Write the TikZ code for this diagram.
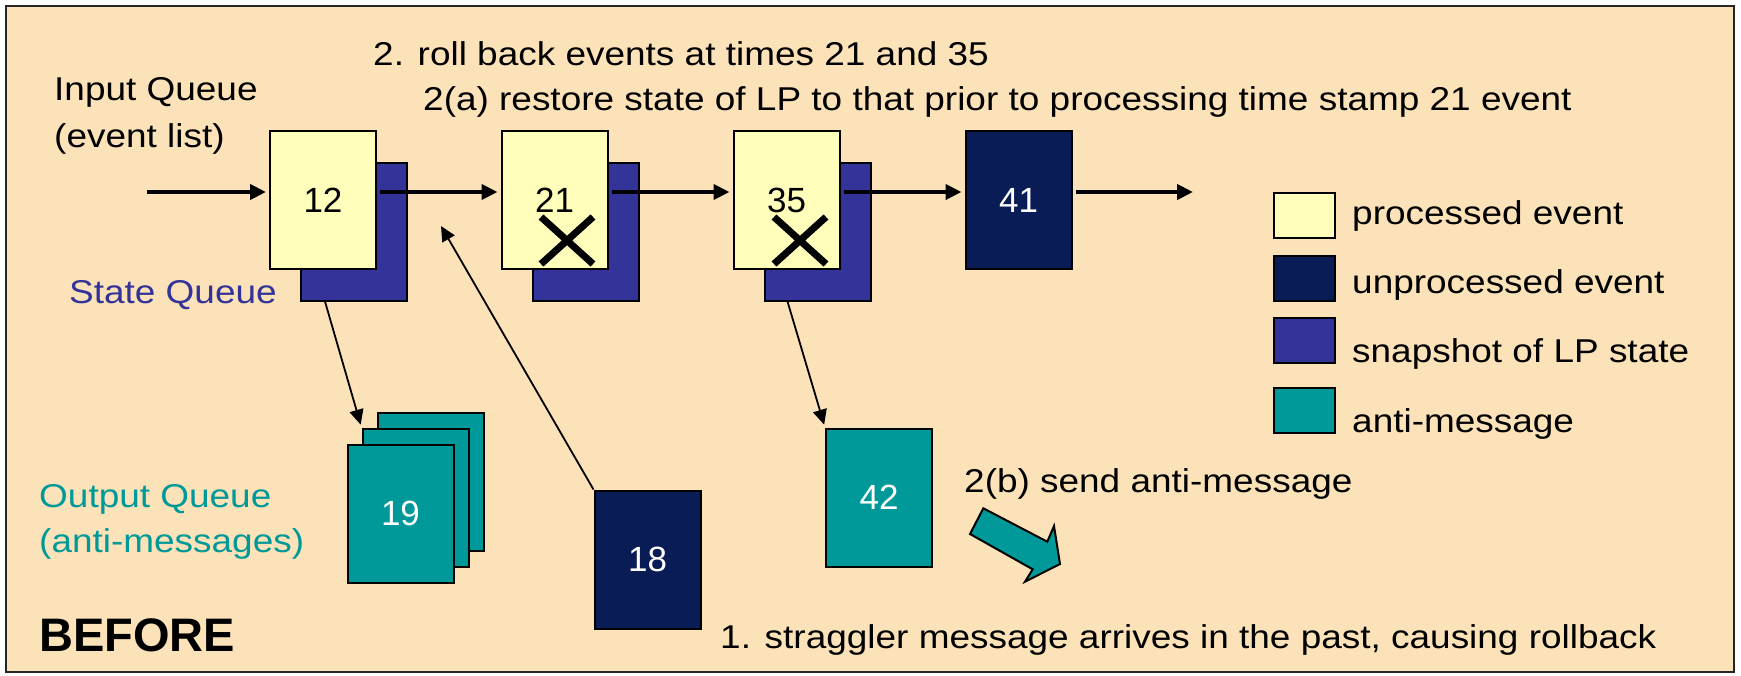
\documentclass[tikz,border=0pt]{standalone}
\usepackage{fontspec}
\setmainfont{Liberation Sans}
\newfontfamily\widesans[FakeStretch=1.12]{Liberation Sans}
\usetikzlibrary{arrows.meta}
\definecolor{peach}{HTML}{FCE2B8}
\definecolor{procyellow}{HTML}{FFFFBB}
\definecolor{navyev}{HTML}{0A1C55}
\definecolor{snapblue}{HTML}{333399}
\definecolor{antiteal}{HTML}{009999}
\begin{document}
\begin{tikzpicture}[x=1pt,y=-1pt,
  box/.style={draw=black, line width=2pt, minimum width=106pt, minimum height=138pt, inner sep=0pt, font=\fontsize{35}{35}\selectfont},
  proc/.style={box, fill=procyellow},
  unproc/.style={box, fill=navyev, text=white},
  snap/.style={box, fill=snapblue},
  antibox/.style={box, fill=antiteal, text=white},
  harrow/.style={-{Triangle[length=16pt,width=15pt]}, line width=4pt},
  tarrow/.style={-{Triangle[length=15pt,width=14pt]}, line width=1.8pt},
  lbl/.style={anchor=base west, inner sep=0pt, font=\widesans\fontsize{33}{33}\selectfont},
  legsq/.style={draw=black, line width=2.5pt, minimum width=61pt, minimum height=45pt, inner sep=0pt},
  xmark/.style={line width=7pt, black},
]
\useasboundingbox (0,0) rectangle (1741,675);
\fill[white] (0,0) rectangle (1741,675);
\draw[fill=peach, draw=black!85, line width=2.5pt] (6,6) rectangle (1734,672);

% snapshots
\node[snap] (s12) at (354,231.5) {};
\node[snap] (s21) at (586,231.5) {};
\node[snap] (s35) at (817.5,231.5) {};
% events
\node[proc] (e12) at (323,200) {12};
\node[proc] (e21) at (554.5,200) {21};
\node[proc] (e35) at (786.5,200) {35};
\node[unproc] (e41) at (1018.5,200) {41};

% X marks
\draw[xmark] (541,217) -- (593,264) (541,264) -- (593,217);
\draw[xmark] (774,217) -- (826,264) (774,264) -- (826,217);

% horizontal arrows
\coordinate (yl) at (0,192);
\coordinate (in0) at (147,192);
\coordinate (out0) at (1193,192);
\draw[harrow, shorten >=3pt] (in0) -- (e12.west |- yl);
\draw[harrow, shorten <=3pt, shorten >=3pt] (e12.east |- yl) -- (e21.west |- yl);
\draw[harrow, shorten <=3pt, shorten >=3pt] (e21.east |- yl) -- (e35.west |- yl);
\draw[harrow, shorten <=3pt, shorten >=3pt] (e35.east |- yl) -- (e41.west |- yl);
\draw[harrow, shorten <=3pt] (e41.east |- yl) -- (out0);

% output queue stack
\node[antibox] (o3) at (430.5,481.5) {};
\node[antibox] (o2) at (415.5,497.5) {};
\node[antibox] (o1) at (400.5,513.5) {19};

% straggler and anti-message 42
\node[unproc] (b18) at (647.5,559.5) {18};
\node[antibox] (b42) at (879,497.5) {42};

% thin arrows
\coordinate (strtip) at (441,226);
\draw[tarrow] (b18.north west) -- (strtip);
\draw[tarrow, shorten >=3pt] ([xshift=25pt]s12.south west) -- (o2.north west);
\draw[tarrow, shorten >=3pt] ([xshift=24pt]s35.south west) -- (b42.north west);

% fat arrow
\filldraw[fill=antiteal, draw=black, line width=2pt, line join=miter]
  (983.3,508.3) -- (1047.3,541.7) -- (1054,526) -- (1060,564) -- (1025,581.7) -- (1032.7,569.3) -- (970,534) -- cycle;

% legend
\node[legsq, fill=procyellow] (l1) at (1304.5,215.5) {};
\node[legsq, fill=navyev] (l2) at (1304.5,278.5) {};
\node[legsq, fill=snapblue] (l3) at (1304.5,340.5) {};
\node[legsq, fill=antiteal] (l4) at (1304.5,410.5) {};
\node[lbl] (t1) at (1352,224) {processed event};
\node[lbl] (t2) at (1352,293) {unprocessed event};
\node[lbl] (t3) at (1352,362) {snapshot of LP state};
\node[lbl] (t4) at (1352,432) {anti-message};

% texts
\node[lbl] (r2) at (373,65) {2. roll back events at times 21 and 35};
\node[lbl] (r2a) at (423,110) {2(a) restore state of LP to that prior to processing time stamp 21 event};
\node[lbl] (iq1) at (54,100) {Input Queue};
\node[lbl] (iq2) at (54,147) {(event list)};
\node[lbl, text=snapblue] (sq) at (69,303) {State Queue};
\node[lbl, text=antiteal] (oq1) at (39,507) {Output Queue};
\node[lbl, text=antiteal] (oq2) at (39,552) {(anti-messages)};
\node[lbl, font=\fontsize{47}{47}\selectfont\bfseries] (bef) at (39,651) {BEFORE};
\node[lbl] (r2b) at (964,492) {2(b) send anti-message};
\node[lbl] (r1) at (720,648) {1. straggler message arrives in the past, causing rollback};
\end{tikzpicture}
\end{document}
